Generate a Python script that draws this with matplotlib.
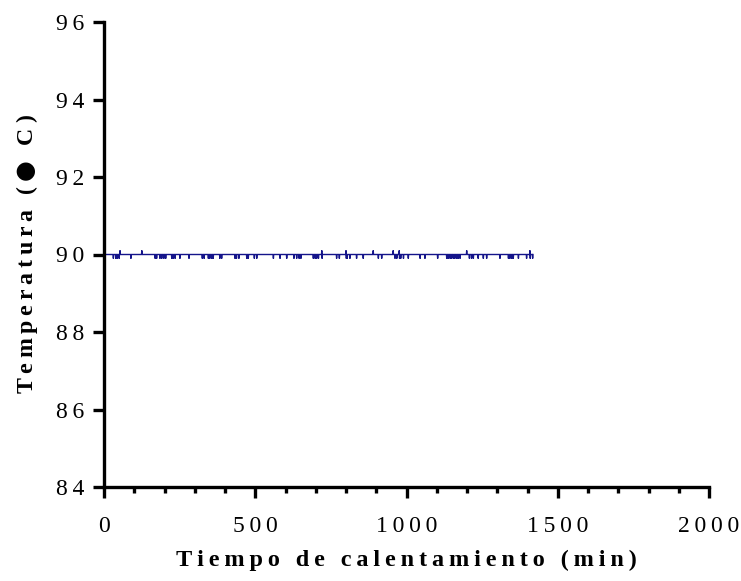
import numpy as np
import matplotlib
matplotlib.use('Agg')
import matplotlib.pyplot as plt
from matplotlib.ticker import MultipleLocator, FuncFormatter

# ---- data ----
baseline_temp = 90.0
end_time = 1418
dip_temp = 89.9
spike_temp = 90.1
dip_times = [31, 39, 44, 50, 89, 169, 174, 185, 191, 198, 204, 224, 229, 235,
             251, 281, 325, 331, 345, 350, 356, 361, 383, 389, 433, 438, 446,
             472, 477, 497, 505, 560, 582, 604, 628, 637, 645, 651, 692, 698,
             703, 709, 721, 769, 778, 801, 804, 813, 835, 857, 907, 918, 962,
             968, 977, 981, 990, 1006, 1045, 1061, 1103, 1133, 1138, 1144,
             1149, 1155, 1160, 1166, 1171, 1177, 1208, 1215, 1221, 1237, 1254,
             1265, 1309, 1337, 1342, 1348, 1353, 1370, 1397, 1409, 1417]
spike_times = [53, 125, 720, 800, 890, 956, 976, 1199, 1408]

x_ticks = [0, 500, 1000, 1500, 2000]
y_ticks = [84, 86, 88, 90, 92, 94, 96]
x_label = "Tiempo de calentamiento (min)"
y_label_word = "Temperatura"
y_label_unit = "C"

time = np.arange(0, end_time + 1)
temp = np.full(time.shape, baseline_temp)
temp[dip_times] = dip_temp
temp[spike_times] = spike_temp

# ---- figure ----
plt.rcParams['font.family'] = ['Liberation Serif', 'DejaVu Sans']
plt.rcParams['mathtext.fontset'] = 'custom'
plt.rcParams['mathtext.sf'] = 'DejaVu Sans:bold'
plt.rcParams['mathtext.rm'] = 'Liberation Serif:bold'
fig = plt.figure(figsize=(7.41, 5.81), dpi=100)
ax = fig.add_axes([104/741, 1-487/581, (709-104)/741, (487-22)/581])

ax.plot(time, temp, color='#14148a', lw=1.0)

ax.set_xlim(0, 2000)
ax.set_ylim(84, 96)
ax.set_xticks(x_ticks)
ax.set_yticks(y_ticks)
ax.xaxis.set_minor_locator(MultipleLocator(100))

def spaced(v, pos):
    return '\u2009'.join(str(int(round(v))))

ax.xaxis.set_major_formatter(FuncFormatter(spaced))
ax.yaxis.set_major_formatter(FuncFormatter(spaced))

for s in ['top', 'right']:
    ax.spines[s].set_visible(False)
for s in ['left', 'bottom']:
    ax.spines[s].set_linewidth(2.4)
    ax.spines[s].set_capstyle('projecting')

ax.tick_params(axis='both', which='major', direction='out', width=2.4,
               length=8, labelsize=17, colors='black')
ax.tick_params(axis='x', which='major', pad=13)
ax.tick_params(axis='y', which='major', pad=6)
ax.tick_params(axis='x', which='minor', direction='out', width=2.4, length=4.5)

def letter_spaced(s):
    words = s.split(' ')
    return '\u2009 \u2009'.join('\u2009'.join(w) for w in words)

y_label = (letter_spaced(y_label_word) + '\u2009 \u2009(\u2009$\\mathsf{\u25CF}$\u2009 \u2009'
           + y_label_unit + '\u2009)')

ax.set_xlabel(letter_spaced(x_label), fontsize=17.5, fontweight='bold', labelpad=9)
ax.set_ylabel(y_label, fontsize=17.2, fontweight='bold', labelpad=12)

fig.savefig('out.png', dpi=100)
